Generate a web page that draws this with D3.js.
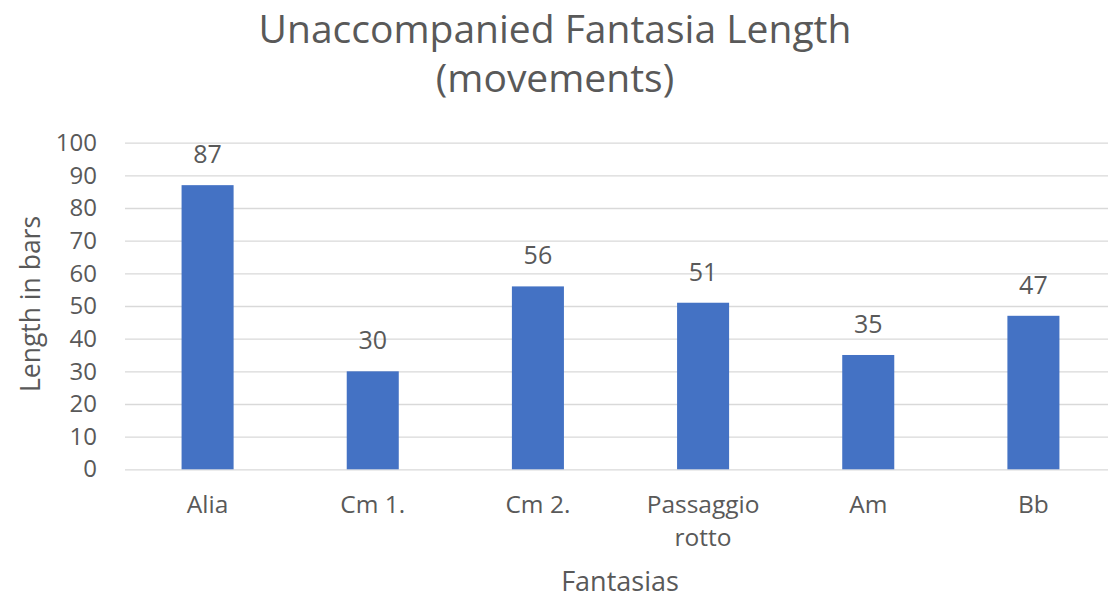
<!DOCTYPE html>
<html>
<head>
<meta charset="utf-8">
<script src="https://cdn.jsdelivr.net/npm/d3@7.9.0/dist/d3.min.js"></script>
<style>
  body { margin: 0; background: #fff; }
  text { font-family: "Open Sans", Lato, sans-serif; fill: #595959; }
</style>
</head>
<body>
<div id="chart"></div>
<script>
const categories = ['Alia', 'Cm 1.', 'Cm 2.', 'Passaggio rotto', 'Am', 'Bb'];
const lengths = [87, 30, 56, 51, 35, 47];
const yTicks = [0, 10, 20, 30, 40, 50, 60, 70, 80, 90, 100];
const titleLines = ['Unaccompanied Fantasia Length', '(movements)'];

const width = 1108;
const height = 599;
const margin = { top: 142.7, left: 125, bottom: 599 - 469.3 };
const plotW = 991;
const plotH = height - margin.top - margin.bottom;

const svg = d3.select('#chart')
  .append('svg')
  .attr('width', width)
  .attr('height', height);

const x = d3.scaleBand()
  .domain(categories)
  .range([0, plotW])
  .paddingInner(0.685)
  .paddingOuter(0.3425);

const y = d3.scaleLinear()
  .domain([0, 100])
  .range([plotH, 0]);

const g = svg.append('g').attr('transform', `translate(${margin.left},${margin.top})`);

// gridlines
g.append('g')
  .call(d3.axisLeft(y).tickValues(yTicks).tickSize(-plotW).tickFormat(''))
  .call(a => a.select('.domain').remove())
  .call(a => a.selectAll('line').attr('stroke', '#d9d9d9').attr('stroke-width', 1.3));

// y tick labels
g.append('g')
  .call(d3.axisLeft(y).tickValues(yTicks).tickSize(0).tickPadding(28))
  .call(a => a.select('.domain').remove())
  .call(a => a.selectAll('text').style('font-size', '24px').attr('fill', '#595959'));

// bars
g.selectAll('rect.bar')
  .data(lengths)
  .join('rect')
  .attr('class', 'bar')
  .attr('x', (d, i) => x(categories[i]))
  .attr('y', d => y(d))
  .attr('width', x.bandwidth())
  .attr('height', d => plotH - y(d))
  .attr('fill', '#4472c4');

// value labels
g.selectAll('text.val')
  .data(lengths)
  .join('text')
  .attr('class', 'val')
  .attr('x', (d, i) => x(categories[i]) + x.bandwidth() / 2)
  .attr('y', d => y(d) - 22)
  .attr('text-anchor', 'middle')
  .style('font-size', '25px')
  .text(d => d);

// category labels (wrap two-word names)
const xl = g.append('g').attr('transform', `translate(0,${plotH})`);
categories.forEach(c => {
  const t = xl.append('text')
    .attr('x', x(c) + x.bandwidth() / 2)
    .attr('y', 44)
    .attr('text-anchor', 'middle')
    .style('font-size', '24.5px');
  const words = c.split(' ');
  const lines = (words.length > 1 && c.length > 8) ? words : [c];
  lines.forEach((w, i) => {
    t.append('tspan')
      .attr('x', x(c) + x.bandwidth() / 2)
      .attr('dy', i === 0 ? 0 : 33)
      .text(w);
  });
});

// title
svg.append('text')
  .attr('x', 555)
  .attr('y', 43)
  .attr('text-anchor', 'middle')
  .style('font-size', '39px')
  .selectAll('tspan')
  .data(titleLines)
  .join('tspan')
  .attr('x', 555)
  .attr('dy', (d, i) => i === 0 ? 0 : 49)
  .text(d => d);

// axis titles
svg.append('text')
  .attr('x', 620)
  .attr('y', 591)
  .attr('text-anchor', 'middle')
  .style('font-size', '27px')
  .text('Fantasias');

svg.append('text')
  .attr('transform', 'rotate(-90)')
  .attr('x', -304)
  .attr('y', 40)
  .attr('text-anchor', 'middle')
  .style('font-size', '26.5px')
  .text('Length in bars');
</script>
</body>
</html>
